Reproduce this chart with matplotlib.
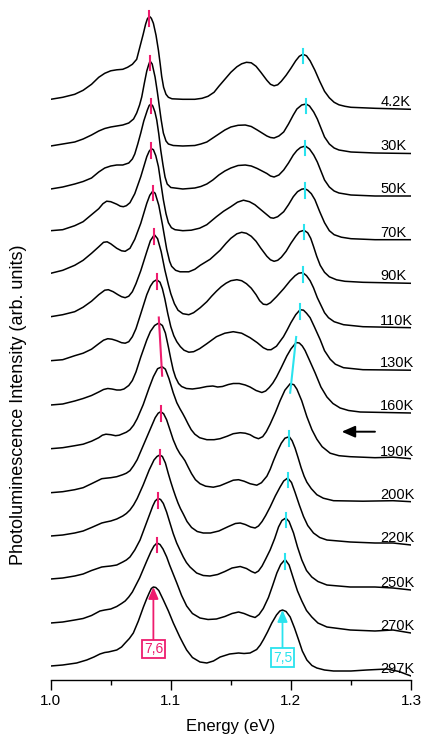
import numpy as np
import matplotlib
matplotlib.use("Agg")
import matplotlib.pyplot as plt
from matplotlib.ticker import MultipleLocator

plt.rcParams["font.family"] = ["Liberation Sans", "DejaVu Sans"]

# temperature labels, top to bottom
TEMPS = ["4.2K", "30K", "50K", "70K", "90K", "110K", "130K",
         "160K", "190K", "200K", "220K", "250K", "270K", "297K"]

# vertical offset of each spectrum (arb. units)
OFFSETS = [580.7, 534, 491, 449.3, 406.7, 363.3, 319.3,
           275, 231.3, 187.3, 144, 101, 57, 14]

# (energy eV, intensity above offset)
S_4K2 = [(1.000, 0), (1.010, 2), (1.020, 5), (1.027, 9), (1.034, 15), (1.040, 22),
         (1.045, 26), (1.050, 28.5), (1.055, 29.5), (1.060, 30), (1.064, 32), (1.068, 35),
         (1.0716, 40), (1.0744, 53), (1.077, 65), (1.079, 75), (1.0805, 80.5), (1.0822, 83),
         (1.0838, 81), (1.0855, 76), (1.0877, 64), (1.0897, 49), (1.0912, 35), (1.0924, 23),
         (1.094, 12), (1.096, 5), (1.098, 2), (1.101, 0.5), (1.110, 0), (1.120, 0),
         (1.126, 1), (1.131, 3), (1.136, 7), (1.140, 13), (1.145, 20), (1.150, 27),
         (1.155, 32.5), (1.159, 35.5), (1.163, 37), (1.167, 36.5), (1.171, 33), (1.175, 27),
         (1.180, 19), (1.183, 15), (1.186, 13.5), (1.189, 14.5), (1.192, 18), (1.196, 24),
         (1.200, 31), (1.204, 38.5), (1.207, 43), (1.210, 45), (1.213, 43.5), (1.216, 38.5),
         (1.220, 29), (1.224, 18), (1.228, 8), (1.232, 1.5), (1.236, -3), (1.240, -5.5),
         (1.245, -7), (1.250, -8), (1.270, -9), (1.300, -10)]
S_30K = [(1.000, 0), (1.010, 2), (1.020, 4), (1.027, 7), (1.034, 11), (1.040, 15),
         (1.045, 17.5), (1.050, 19), (1.055, 20), (1.060, 21), (1.065, 23), (1.069, 27),
         (1.0716, 33), (1.074, 41), (1.0758, 49), (1.078, 63), (1.080, 75), (1.0815, 81),
         (1.0827, 85), (1.0845, 82), (1.0869, 69), (1.0888, 54), (1.0905, 39), (1.092, 26),
         (1.0938, 13), (1.096, 5), (1.098, 2), (1.102, 0.5), (1.110, 0), (1.120, 0.5),
         (1.125, 2), (1.130, 4), (1.135, 8), (1.140, 12), (1.145, 16), (1.150, 19),
         (1.156, 20.7), (1.162, 21), (1.167, 19.5), (1.172, 16), (1.176, 13), (1.180, 10),
         (1.183, 8.5), (1.186, 8), (1.190, 10), (1.194, 14), (1.198, 22), (1.202, 31),
         (1.205, 37), (1.209, 41), (1.2127, 42), (1.2155, 40), (1.219, 34), (1.222, 27),
         (1.225, 18), (1.228, 9), (1.232, 2), (1.236, -2), (1.240, -4), (1.250, -6),
         (1.270, -7), (1.300, -7.5)]
S_50K = [(1.000, 0), (1.010, 2), (1.020, 5), (1.027, 7.5), (1.034, 11), (1.040, 17),
         (1.045, 21), (1.050, 23), (1.055, 24), (1.060, 24), (1.065, 26), (1.068, 30),
         (1.070, 35), (1.0725, 45), (1.075, 56), (1.0775, 68), (1.0805, 79), (1.082, 83.5),
         (1.0835, 85), (1.085, 83), (1.0868, 77), (1.0883, 69), (1.090, 55), (1.0916, 39),
         (1.0935, 24), (1.0952, 12), (1.097, 5), (1.100, 1.5), (1.110, 0), (1.120, 1),
         (1.125, 2.5), (1.130, 5), (1.135, 9), (1.140, 14), (1.145, 18), (1.150, 21),
         (1.156, 23.5), (1.162, 24), (1.167, 23), (1.172, 20.5), (1.176, 18), (1.180, 15.5),
         (1.183, 13), (1.186, 12), (1.190, 14), (1.194, 19), (1.198, 26), (1.202, 34),
         (1.205, 38.5), (1.208, 41.5), (1.212, 43), (1.2155, 40), (1.219, 34), (1.222, 27),
         (1.225, 18), (1.228, 9), (1.232, 2), (1.236, -2), (1.240, -4), (1.250, -6),
         (1.270, -7), (1.300, -7)]
S_70K = [(1.000, 0), (1.010, 1), (1.020, 5), (1.027, 9), (1.034, 16), (1.040, 22),
         (1.0435, 27), (1.0466, 29.5), (1.050, 29), (1.055, 26.5), (1.058, 24.5), (1.0605, 24),
         (1.063, 25), (1.066, 28), (1.070, 37), (1.075, 54), (1.080, 74), (1.082, 79.5),
         (1.0838, 82), (1.0855, 81), (1.0875, 75), (1.0897, 64), (1.0918, 47), (1.0938, 31),
         (1.096, 17), (1.098, 8), (1.1005, 3), (1.1035, 1), (1.110, 0), (1.117, 0.5),
         (1.124, 2.5), (1.130, 6), (1.138, 14), (1.144, 19.5), (1.150, 24), (1.1555, 28.5),
         (1.1605, 30.5), (1.1655, 29), (1.170, 26), (1.175, 21), (1.180, 16), (1.183, 13),
         (1.1855, 12.5), (1.189, 14), (1.194, 19), (1.198, 26), (1.202, 34), (1.2055, 39),
         (1.209, 41.5), (1.2115, 42), (1.214, 40.5), (1.217, 37), (1.220, 31), (1.224, 19),
         (1.228, 8), (1.232, 0), (1.236, -4), (1.242, -6.5), (1.250, -8), (1.270, -9),
         (1.300, -9)]
S_90K = [(1.000, 0), (1.010, 3), (1.020, 8), (1.027, 13), (1.034, 20), (1.040, 26.5),
         (1.044, 31), (1.047, 31.5), (1.050, 29.5), (1.055, 25), (1.059, 22.5), (1.062, 22),
         (1.066, 25), (1.070, 34), (1.075, 50), (1.080, 70), (1.0825, 78), (1.0849, 82),
         (1.087, 80), (1.090, 68), (1.093, 49), (1.0966, 24), (1.099, 12), (1.1007, 7),
         (1.104, 3), (1.1077, 1.5), (1.115, 1.5), (1.120, 4), (1.1245, 8), (1.1327, 14),
         (1.141, 23), (1.146, 30), (1.150, 35), (1.155, 39.5), (1.159, 41), (1.163, 40),
         (1.167, 37), (1.171, 32), (1.175, 25), (1.180, 17), (1.183, 13.5), (1.186, 12),
         (1.189, 13), (1.192, 16), (1.196, 22), (1.200, 30), (1.204, 37), (1.207, 41.5),
         (1.2109, 43), (1.214, 40.5), (1.2165, 35), (1.2188, 27), (1.2215, 17), (1.2244, 8),
         (1.228, 1), (1.232, -3.5), (1.238, -6.5), (1.245, -8), (1.260, -9), (1.300, -10)]
S_110K = [(1.000, 0), (1.010, 2), (1.020, 5), (1.027, 9.5), (1.034, 15.5), (1.040, 22),
          (1.045, 26.5), (1.048, 27), (1.052, 25), (1.056, 22), (1.059, 20), (1.062, 19),
          (1.065, 20.5), (1.068, 25), (1.071, 33), (1.075, 46), (1.080, 65), (1.083, 76),
          (1.0863, 82), (1.089, 78), (1.092, 65), (1.095, 47), (1.098, 32), (1.100, 23),
          (1.103, 13), (1.106, 6.5), (1.110, 3), (1.115, 2), (1.119, 4), (1.1245, 9),
          (1.130, 15), (1.134, 20.5), (1.138, 25.5), (1.142, 30), (1.146, 33.5), (1.150, 36),
          (1.155, 37), (1.159, 36), (1.163, 33), (1.167, 28.5), (1.171, 22), (1.174, 16),
          (1.177, 12.5), (1.180, 12), (1.183, 14), (1.188, 20), (1.194, 28), (1.1994, 36),
          (1.2035, 41), (1.2065, 43.5), (1.2099, 44), (1.213, 41), (1.216, 36), (1.2188, 29),
          (1.222, 19), (1.2244, 13), (1.228, 4), (1.2313, -1), (1.236, -5), (1.2438, -8),
          (1.260, -10), (1.300, -11)]
S_130K = [(1.000, 0), (1.010, 1), (1.020, 5), (1.027, 7.5), (1.034, 11.5), (1.040, 17),
          (1.044, 20.5), (1.0475, 22), (1.051, 21.5), (1.055, 20), (1.059, 18), (1.062, 17.5),
          (1.065, 19), (1.068, 24), (1.071, 32), (1.075, 47), (1.080, 66), (1.083, 74.5),
          (1.0855, 79), (1.0883, 81), (1.091, 78.5), (1.093, 72), (1.095, 62), (1.0975, 47),
          (1.100, 34), (1.1025, 25), (1.105, 19), (1.108, 14), (1.111, 10.5), (1.115, 8.5),
          (1.119, 9), (1.124, 12), (1.130, 17), (1.138, 24), (1.145, 27.5), (1.152, 29),
          (1.159, 27.5), (1.166, 23), (1.172, 18), (1.177, 13), (1.1805, 11), (1.1835, 11),
          (1.188, 14.5), (1.1938, 24), (1.197, 31), (1.200, 38), (1.204, 46), (1.2077, 51),
          (1.2105, 50.5), (1.213, 47.5), (1.216, 43), (1.2195, 34), (1.2244, 21), (1.228, 10),
          (1.2327, 1.5), (1.237, -3.5), (1.2438, -7), (1.260, -9), (1.300, -9.5)]
S_160K = [(1.000, 0), (1.010, 1), (1.020, 4), (1.027, 6.5), (1.034, 9.5), (1.040, 13),
          (1.044, 15.5), (1.0475, 16.5), (1.051, 16), (1.055, 15), (1.058, 15), (1.061, 16),
          (1.065, 19.5), (1.068, 24.5), (1.071, 33), (1.075, 48), (1.080, 65), (1.083, 73.5),
          (1.0865, 79.5), (1.0900, 82), (1.093, 79.5), (1.0955, 72), (1.098, 58), (1.100, 46),
          (1.102, 35), (1.104, 27.5), (1.1065, 21.5), (1.109, 18.5), (1.113, 16.5), (1.118, 16),
          (1.124, 17), (1.130, 18.5), (1.135, 19), (1.139, 18), (1.143, 18.5), (1.148, 20.5),
          (1.152, 21.5), (1.157, 21.5), (1.162, 20), (1.166, 18), (1.171, 14.5), (1.1758, 12.5),
          (1.179, 14), (1.182, 17.5), (1.185, 22), (1.188, 28), (1.192, 37.5), (1.1966, 49),
          (1.200, 56), (1.2044, 62.5), (1.207, 62), (1.2095, 59), (1.2118, 54.5), (1.215, 46),
          (1.2202, 32), (1.225, 18), (1.230, 8), (1.235, 1.5), (1.241, -3), (1.248, -5.5),
          (1.2577, -7), (1.300, -8)]
S_190K = [(1.000, 0), (1.010, 1), (1.020, 3), (1.027, 4.5), (1.034, 7.5), (1.040, 11),
          (1.043, 13.5), (1.046, 14.5), (1.050, 14), (1.054, 13), (1.057, 13.5), (1.060, 15),
          (1.063, 16.5), (1.066, 19), (1.069, 23.5), (1.072, 30), (1.077, 44), (1.082, 61),
          (1.0855, 72), (1.089, 80), (1.0928, 82), (1.0955, 79.5), (1.0985, 70), (1.102, 56),
          (1.105, 46), (1.1076, 40), (1.110, 35), (1.112, 30.5), (1.1145, 24.5), (1.117, 19),
          (1.120, 14.5), (1.124, 11), (1.130, 9), (1.136, 9), (1.141, 10), (1.147, 12.5),
          (1.152, 15), (1.1578, 16), (1.162, 15.5), (1.166, 14), (1.1695, 11.5), (1.173, 10),
          (1.1765, 12), (1.1795, 17), (1.1827, 24.5), (1.187, 36), (1.191, 48), (1.195, 58.5),
          (1.1994, 65), (1.2025, 64), (1.205, 59.5), (1.209, 48), (1.2133, 32), (1.2175, 19),
          (1.2216, 9.5), (1.226, 2), (1.2327, -4.5), (1.240, -7), (1.2494, -8), (1.270, -9),
          (1.285, -8.5), (1.300, -10)]
S_200K = [(1.000, 0), (1.010, 1), (1.020, 3), (1.027, 5), (1.034, 9), (1.0425, 14),
          (1.046, 14.5), (1.050, 15), (1.055, 16), (1.060, 18), (1.063, 19.5), (1.066, 22),
          (1.069, 27), (1.072, 33), (1.077, 47), (1.0827, 63), (1.087, 75), (1.0895, 79.5),
          (1.0916, 81), (1.094, 79), (1.0965, 73), (1.099, 64), (1.102, 53), (1.105, 44.5),
          (1.1076, 39), (1.1098, 35.5), (1.1118, 32), (1.1145, 25.5), (1.1173, 19), (1.1205, 13),
          (1.1243, 9), (1.129, 6.5), (1.1354, 5.5), (1.141, 7), (1.147, 10), (1.152, 12.5),
          (1.1564, 13), (1.161, 11.5), (1.166, 9), (1.1716, 7.5), (1.1755, 10), (1.180, 16.5),
          (1.1828, 23.5), (1.1855, 32), (1.189, 42), (1.192, 49.5), (1.195, 54.5), (1.1986, 56),
          (1.201, 52), (1.2035, 44.5), (1.206, 35), (1.2085, 25), (1.211, 16.5), (1.2133, 10.5),
          (1.217, 4), (1.2216, -2), (1.227, -5.5), (1.2355, -8), (1.260, -8.5), (1.285, -8),
          (1.300, -9)]
S_220K = [(1.000, 0), (1.010, 1), (1.020, 3), (1.027, 5), (1.034, 8.5), (1.0425, 13),
          (1.046, 14), (1.050, 15), (1.055, 17), (1.060, 20), (1.063, 22.5), (1.066, 26),
          (1.069, 31), (1.072, 37.5), (1.077, 51), (1.082, 66), (1.086, 76), (1.0885, 79.5),
          (1.0908, 81), (1.093, 79.5), (1.0955, 73), (1.0979, 62.5), (1.100, 54), (1.102, 46.5),
          (1.104, 39.5), (1.106, 33), (1.108, 27.5), (1.1104, 22), (1.1135, 14.5), (1.1173, 8.5),
          (1.122, 4.5), (1.127, 3), (1.133, 3), (1.140, 5), (1.148, 9.5), (1.1538, 12.5),
          (1.1578, 13), (1.162, 11.5), (1.1665, 9), (1.1702, 8), (1.173, 10), (1.176, 14.5),
          (1.179, 20.5), (1.1827, 29), (1.187, 40), (1.191, 49), (1.194, 55), (1.1974, 58),
          (1.2005, 53.5), (1.2035, 43.5), (1.207, 31), (1.2105, 19.5), (1.214, 10.5), (1.2188, 3),
          (1.224, -1.5), (1.230, -4), (1.2494, -6), (1.270, -7), (1.285, -7), (1.300, -9)]
S_250K = [(1.000, 0), (1.010, 1), (1.020, 3), (1.027, 5), (1.034, 8.5), (1.0425, 12),
          (1.046, 12.5), (1.050, 13), (1.055, 14), (1.060, 17), (1.063, 19), (1.066, 22),
          (1.070, 29), (1.0744, 39), (1.080, 57), (1.085, 73), (1.087, 78), (1.0893, 80.5),
          (1.0915, 79.5), (1.0938, 75.5), (1.0965, 67), (1.0993, 56), (1.102, 45.5), (1.1049, 36),
          (1.1076, 29), (1.1104, 22), (1.113, 16.5), (1.116, 12), (1.1215, 6), (1.127, 3.5),
          (1.1326, 3), (1.139, 4.5), (1.145, 7.5), (1.151, 11), (1.1578, 12.5), (1.163, 10.5),
          (1.1672, 7.5), (1.1702, 6), (1.173, 8), (1.176, 13), (1.179, 20), (1.1827, 29),
          (1.1865, 40.5), (1.1897, 52), (1.1925, 58.5), (1.1958, 61), (1.1985, 57.5), (1.2022, 46),
          (1.2055, 32), (1.2091, 19), (1.213, 8.5), (1.2174, 2), (1.2225, -2.5), (1.230, -6),
          (1.2494, -8), (1.270, -8), (1.285, -9), (1.300, -11)]
S_270K = [(1.000, 0), (1.010, 1), (1.020, 3), (1.027, 4.5), (1.034, 7.5), (1.041, 12),
          (1.045, 13), (1.050, 14), (1.055, 16.5), (1.059, 19.5), (1.062, 22), (1.065, 26),
          (1.068, 31), (1.074, 45), (1.080, 62), (1.0835, 71.5), (1.086, 77), (1.0885, 80),
          (1.091, 78.5), (1.0935, 74), (1.0966, 66), (1.099, 58), (1.101, 52), (1.105, 40),
          (1.109, 27.5), (1.1132, 17), (1.118, 9.5), (1.1243, 5), (1.131, 3.5), (1.138, 4),
          (1.145, 6.5), (1.151, 9.5), (1.1564, 11), (1.161, 9.5), (1.166, 7), (1.1702, 5.5),
          (1.1735, 8.5), (1.177, 14.5), (1.1813, 25.5), (1.1848, 37.5), (1.1883, 50), (1.1915, 58.5),
          (1.1952, 63.5), (1.1985, 58), (1.2022, 44), (1.2055, 32), (1.2091, 22), (1.213, 12.5),
          (1.2174, 6), (1.2225, 0), (1.230, -4), (1.2494, -7), (1.270, -8), (1.285, -7),
          (1.300, -10)]
S_297K = [(1.000, 0), (1.010, 1), (1.0216, 3), (1.030, 6), (1.036, 9), (1.041, 12),
          (1.045, 13.5), (1.048, 14), (1.055, 16), (1.059, 19), (1.062, 23), (1.0655, 27.5),
          (1.0688, 33), (1.073, 45), (1.0772, 59), (1.080, 67.5), (1.082, 73), (1.0838, 77.5),
          (1.0855, 79), (1.0875, 78.5), (1.090, 75.5), (1.0938, 66), (1.098, 55), (1.1021, 43),
          (1.1075, 29), (1.1105, 22), (1.1132, 16), (1.118, 8.5), (1.1243, 4), (1.130, 3),
          (1.1355, 5), (1.1411, 9), (1.149, 12), (1.1564, 13), (1.161, 12.5), (1.166, 13),
          (1.1715, 16.5), (1.1745, 21), (1.1772, 26.5), (1.1805, 34), (1.1841, 43), (1.188, 51),
          (1.1908, 55), (1.1930, 56), (1.196, 54.5), (1.1994, 49), (1.203, 38), (1.2063, 26.5),
          (1.2095, 15), (1.2133, 6), (1.2175, 0.5), (1.2216, -2), (1.228, -4), (1.2355, -5),
          (1.250, -5), (1.2632, -4), (1.2799, -3), (1.290, -5.5), (1.300, -10)]

SPECTRA = [S_4K2, S_30K, S_50K, S_70K, S_90K, S_110K, S_130K,
           S_160K, S_190K, S_200K, S_220K, S_250K, S_270K, S_297K]

# marked peak energies (eV): (7,6) and (7,5) transitions
PEAK_76 = [1.0820, 1.0827, 1.0835, 1.0838, 1.0849, 1.0863, 1.0883,
           1.0900, 1.0928, 1.0916, 1.0908, 1.0893, 1.0885, 1.0855]
PEAK_75 = [1.2100, 1.2127, 1.2120, 1.2115, 1.2109, 1.2099, 1.2077,
           1.2044, 1.1994, 1.1986, 1.1974, 1.1958, 1.1952, 1.1930]

MAGENTA = "#ee1c6e"
CYAN = "#2ae3ee"

fig = plt.figure(figsize=(4.25, 7.38), dpi=100)
ax = fig.add_axes([50.7 / 425, 58 / 738, 360.3 / 425, 680 / 738])

peak_y76 = []
peak_y75 = []
for lab, off, spec, p1, p2 in zip(TEMPS, OFFSETS, SPECTRA, PEAK_76, PEAK_75):
    e, h = np.array(spec).T
    ax.plot(e, off + h, color="black", lw=1.1, zorder=2, solid_joinstyle="round")
    ax.text(1.2745, off + h[-1] + 3, lab, fontsize=10.5, ha="left", va="baseline")
    peak_y76.append(off + np.interp(p1, e, h))
    peak_y75.append(off + np.interp(p2, e, h))

# short markers across each peak; 160K -> 190K joined by a slanted line
up, down = 5.5, 9
for i in range(len(TEMPS) - 1):
    if TEMPS[i] in ("160K", "190K"):
        continue
    for xs, ys, col in ((PEAK_76, peak_y76, MAGENTA), (PEAK_75, peak_y75, CYAN)):
        ax.plot([xs[i], xs[i]], [ys[i] - down, ys[i] + up], color=col, lw=1.5, zorder=3)
i, j = TEMPS.index("160K"), TEMPS.index("190K")
ax.plot([PEAK_76[i], PEAK_76[j]], [peak_y76[i] + up, peak_y76[j] - down],
        color=MAGENTA, lw=1.5, zorder=3)
ax.plot([PEAK_75[i], PEAK_75[j]], [peak_y75[i] + up, peak_y75[j] - down],
        color=CYAN, lw=1.5, zorder=3)

# boxed assignments for the room temperature spectrum
for txt, x, y, ty, col in (("7,6", PEAK_76[-1], peak_y76[-1], 31, MAGENTA),
                           ("7,5", PEAK_75[-1], peak_y75[-1], 22.5, CYAN)):
    ax.annotate(txt, xy=(x, y), xytext=(x, ty), ha="center", va="center",
                fontsize=10, color=col,
                bbox=dict(boxstyle="square,pad=0.15", fc="white", ec=col, lw=1.3),
                arrowprops=dict(arrowstyle="-|>,head_length=0.7,head_width=0.3",
                                color=col, lw=1.3, shrinkA=0, shrinkB=0,
                                mutation_scale=10))

# black arrow next to 190K
ax.annotate("", xy=(1.2423, 248.3), xytext=(1.270, 248.3),
            arrowprops=dict(arrowstyle="-|>,head_length=0.8,head_width=0.35",
                            color="black", lw=1.4, shrinkA=0, shrinkB=0,
                            mutation_scale=10))

ax.set_xlim(1.0, 1.3)
ax.set_ylim(0, 680)
for side in ("left", "right", "top"):
    ax.spines[side].set_visible(False)
ax.spines["bottom"].set_linewidth(1.0)
ax.set_yticks([])
ax.set_xticks([1.0, 1.1, 1.2, 1.3])
ax.xaxis.set_minor_locator(MultipleLocator(0.05))
ax.tick_params(axis="x", which="major", length=7, width=1, direction="out",
               labelsize=11, pad=3)
ax.tick_params(axis="x", which="minor", length=3.6, width=1, direction="out")
ax.set_xlabel("Energy (eV)", fontsize=12, labelpad=8)

fig.text(18.5 / 425, 1 - 405 / 738, "Photoluminescence Intensity (arb. units)",
         rotation=90, ha="center", va="center", fontsize=13)

fig.savefig("out.png", dpi=100)
